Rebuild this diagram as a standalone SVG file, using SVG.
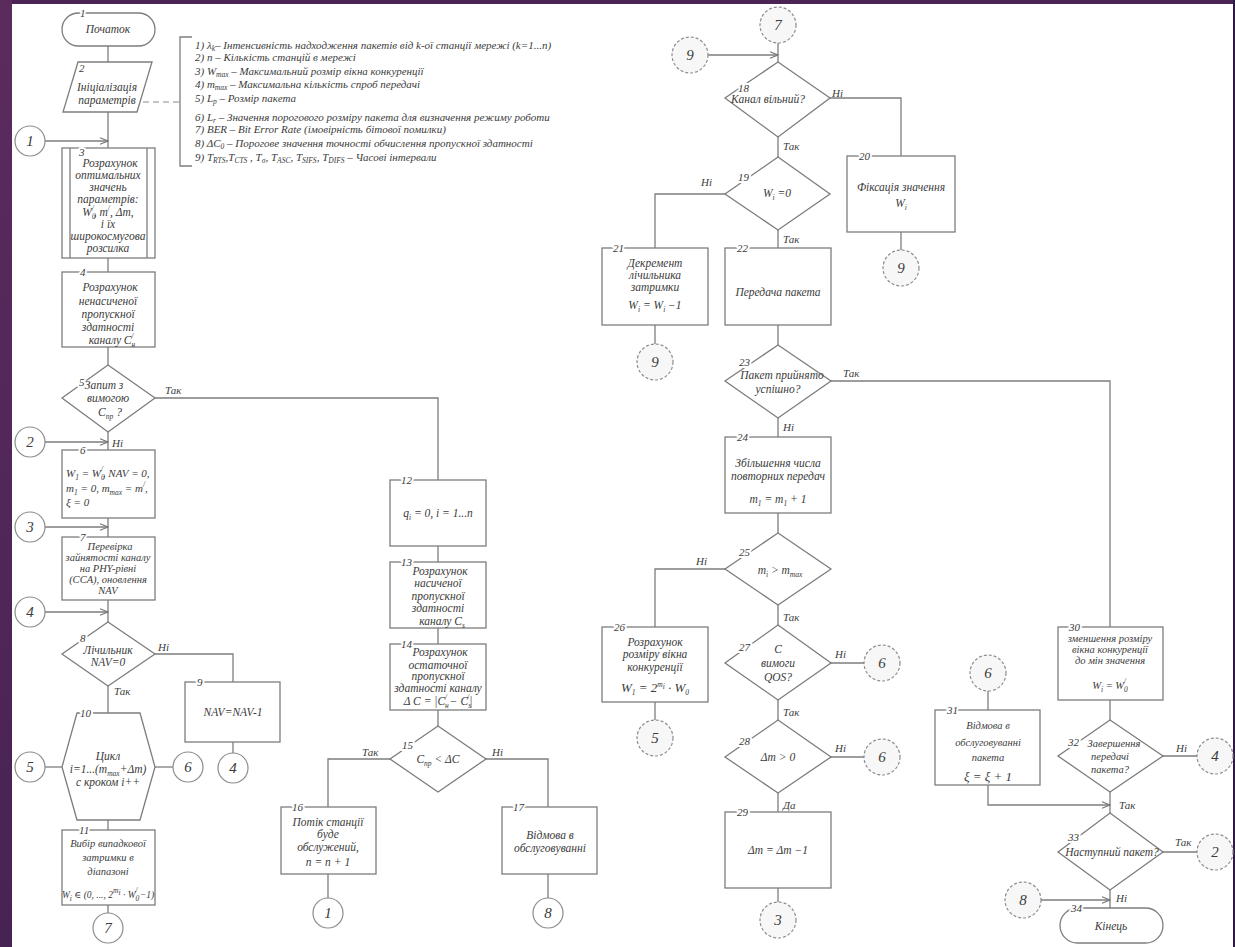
<svg xmlns="http://www.w3.org/2000/svg" width="1235" height="947" viewBox="0 0 1235 947" font-family="'Liberation Serif', serif">
<defs>
  <linearGradient id="band" x1="0" y1="0" x2="0" y2="1">
    <stop offset="0" stop-color="#5c2b5e"/>
    <stop offset="1" stop-color="#472353"/>
  </linearGradient>
  <marker id="arr" markerWidth="10" markerHeight="8" refX="9" refY="4" orient="auto" markerUnits="userSpaceOnUse">
    <path d="M1,0.8 L9,4 L1,7.2" fill="none" stroke="#777" stroke-width="1.1"/>
  </marker>
  <style>
    .ln{fill:none;stroke:#7d7d7d;stroke-width:1.3}
    .dl{fill:none;stroke:#8a8a8a;stroke-width:1.1;stroke-dasharray:6 4}
    .bx{fill:#fff;stroke:#7d7d7d;stroke-width:1.3}
    .cs{fill:#fff;stroke:#8c8c8c;stroke-width:1.2}
    .cd{fill:#f7f7f7;stroke:#8c8c8c;stroke-width:1.2;stroke-dasharray:3 2}
    text{font-family:"Liberation Serif","DejaVu Serif",serif;font-style:italic;fill:#3b3b3b}
    .t{font-size:11.5px;text-anchor:middle}
    .s{font-size:10.5px;text-anchor:middle}
    .f{font-size:11px}
    .lg{font-size:11px}
    .n{font-size:11px;stroke:#fff;stroke-width:4px;paint-order:stroke;stroke-linejoin:round}
    .c{font-size:15px;text-anchor:middle}
    .yn{font-size:11px}
    .sb{font-size:7.5px}
  </style>
</defs>

<!-- page frame -->
<rect width="1235" height="947" fill="#4b2454"/>
<rect x="0" y="0" width="12" height="947" fill="url(#band)"/>
<rect x="12" y="4" width="1221" height="943" fill="#fff"/>
<rect x="1233" y="0" width="2" height="947" fill="#2d1b44"/>

<!-- connectors -->
<g id="connectors">
  <path class="ln" d="M108,46 V62"/>
  <path class="ln" d="M108,112 V148"/>
  <path class="ln" d="M45,141 H108" marker-end="url(#arr)"/>
  <path class="dl" d="M143,102 H180"/>
  <path class="ln" d="M192,37 H180 V166 H192"/>
  <path class="ln" d="M108,258 V272"/>
  <path class="ln" d="M108,347 V365"/>
  <path class="ln" d="M155,398 H438 V480"/>
  <path class="ln" d="M108,432 V450"/>
  <path class="ln" d="M45,442 H108" marker-end="url(#arr)"/>
  <path class="ln" d="M108,518 V537"/>
  <path class="ln" d="M45,527 H108" marker-end="url(#arr)"/>
  <path class="ln" d="M108,600 V622"/>
  <path class="ln" d="M45,612 H108" marker-end="url(#arr)"/>
  <path class="ln" d="M155,654 H233 V682"/>
  <path class="ln" d="M233,742 V753"/>
  <path class="ln" d="M108,686 V713"/>
  <path class="ln" d="M45,767 H62"/>
  <path class="ln" d="M155,767 H173"/>
  <path class="ln" d="M108,820 V830"/>
  <path class="ln" d="M108,905 V913"/>

  <path class="ln" d="M438,546 V562"/>
  <path class="ln" d="M438,628 V644"/>
  <path class="ln" d="M438,710 V726"/>
  <path class="ln" d="M390,759 H328 V807"/>
  <path class="ln" d="M486,759 H548 V807"/>
  <path class="ln" d="M328,874 V898"/>
  <path class="ln" d="M548,874 V898"/>

  <path class="ln" d="M778,43 V62"/>
  <path class="ln" d="M708,55 H778" marker-end="url(#arr)"/>
  <path class="ln" d="M830,98 H901 V156"/>
  <path class="ln" d="M778,137 V157"/>
  <path class="ln" d="M725,194 H655 V248"/>
  <path class="ln" d="M778,230 V248"/>
  <path class="ln" d="M901,232 V250"/>
  <path class="ln" d="M655,325 V344"/>
  <path class="ln" d="M778,325 V345"/>
  <path class="ln" d="M831,381 H1110 V627"/>
  <path class="ln" d="M778,418 V437"/>
  <path class="ln" d="M778,513 V533"/>
  <path class="ln" d="M725,569 H655 V627"/>
  <path class="ln" d="M778,605 V625"/>
  <path class="ln" d="M655,702 V720"/>
  <path class="ln" d="M831,663 H864"/>
  <path class="ln" d="M778,700 V720"/>
  <path class="ln" d="M831,757 H864"/>
  <path class="ln" d="M778,793 V812"/>
  <path class="ln" d="M778,888 V902"/>

  <path class="ln" d="M1110,700 V720"/>
  <path class="ln" d="M988,691 V710"/>
  <path class="ln" d="M988,785 V805 H1110" marker-end="url(#arr)"/>
  <path class="ln" d="M1110,792 V813"/>
  <path class="ln" d="M1163,756 H1197"/>
  <path class="ln" d="M1163,852 H1197"/>
  <path class="ln" d="M1110,890 V908"/>
  <path class="ln" d="M1041,900 H1110" marker-end="url(#arr)"/>

  <!-- branch labels -->
  <text class="yn" x="165" y="394">Так</text>
  <text class="yn" x="112" y="447">Ні</text>
  <text class="yn" x="158" y="651">Ні</text>
  <text class="yn" x="114" y="695">Так</text>
  <text class="yn" x="362" y="756">Так</text>
  <text class="yn" x="492" y="756">Ні</text>
  <text class="yn" x="832" y="97">Ні</text>
  <text class="yn" x="783" y="150">Так</text>
  <text class="yn" x="701" y="186">Ні</text>
  <text class="yn" x="783" y="243">Так</text>
  <text class="yn" x="843" y="377">Так</text>
  <text class="yn" x="783" y="431">Ні</text>
  <text class="yn" x="696" y="565">Ні</text>
  <text class="yn" x="783" y="621">Так</text>
  <text class="yn" x="835" y="658">Ні</text>
  <text class="yn" x="783" y="716">Так</text>
  <text class="yn" x="835" y="752">Ні</text>
  <text class="yn" x="783" y="809">Да</text>
  <text class="yn" x="1176" y="752">Ні</text>
  <text class="yn" x="1119" y="809">Так</text>
  <text class="yn" x="1175" y="846">Так</text>
  <text class="yn" x="1116" y="902">Ні</text>
</g>

<!-- legend of input parameters -->
<g id="legend">
  <text class="lg" x="195" y="49">1) λ<tspan class="sb" dy="2">k</tspan><tspan dy="-2">– Інтенсивність надходження пакетів від k-ої станції мережі (k=1...n)</tspan></text>
  <text class="lg" x="195" y="61">2) n – Кількість станцій в мережі</text>
  <text class="lg" x="195" y="75">3) W<tspan class="sb" dy="2">max</tspan><tspan dy="-2"> – Максимальний розмір вікна конкуренції</tspan></text>
  <text class="lg" x="195" y="88">4) m<tspan class="sb" dy="2">max</tspan><tspan dy="-2"> – Максимальна кількість спроб передачі</tspan></text>
  <text class="lg" x="195" y="102">5) L<tspan class="sb" dy="2">p</tspan><tspan dy="-2"> – Розмір пакета</tspan></text>
  <text class="lg" x="195" y="121">6) L<tspan class="sb" dy="2">r</tspan><tspan dy="-2"> – Значення порогового розміру пакета для визначення режиму роботи</tspan></text>
  <text class="lg" x="195" y="133">7) BER – Bit Error Rate (імовірність бітової помилки)</text>
  <text class="lg" x="195" y="147">8) ΔC<tspan class="sb" dy="2">0</tspan><tspan dy="-2"> – Порогове значення точності обчислення пропускної здатності</tspan></text>
  <text class="lg" x="195" y="161">9) T<tspan class="sb" dy="2">RTS</tspan><tspan dy="-2">,T</tspan><tspan class="sb" dy="2">CTS</tspan><tspan dy="-2"> , T</tspan><tspan class="sb" dy="2">σ</tspan><tspan dy="-2">, T</tspan><tspan class="sb" dy="2">ASC</tspan><tspan dy="-2">, T</tspan><tspan class="sb" dy="2">SIFS</tspan><tspan dy="-2">, T</tspan><tspan class="sb" dy="2">DIFS</tspan><tspan dy="-2"> – Часові інтервали</tspan></text>
</g>

<!-- left column -->
<g id="n1">
  <rect class="bx" x="62" y="13" width="93" height="33" rx="16.5"/>
  <text class="n" x="80" y="17">1</text>
  <text class="t" x="108" y="33">Початок</text>
</g>
<g id="n2">
  <polygon class="bx" points="78,62 152,62 137,112 63,112"/>
  <text class="n" x="79" y="72">2</text>
  <text class="t" x="107" y="91">Ініціалізація</text>
  <text class="t" x="107" y="104">параметрів</text>
</g>
<g id="k1a"><circle class="cs" cx="30" cy="141" r="15"/><text class="c" x="30" y="146">1</text></g>
<g id="n3">
  <rect class="bx" x="62" y="148" width="93" height="110"/>
  <path class="ln" d="M70,148 V258 M147,148 V258"/>
  <text class="n" x="79" y="156">3</text>
  <text class="t" x="110" y="167">Розрахунок</text>
  <text class="t" x="108" y="179">оптимальних</text>
  <text class="t" x="108" y="191">значень</text>
  <text class="t" x="108" y="203">параметрів:</text>
  <text class="t" x="108" y="216">W<tspan class="sb" dy="3">0</tspan><tspan class="sb" dy="-8" dx="-4">/</tspan><tspan dy="5">, m</tspan><tspan class="sb" dy="-5">/</tspan><tspan dy="5">, Δm,</tspan></text>
  <text class="t" x="108" y="228">і їх</text>
  <text class="t" x="108" y="240">широкосмугова</text>
  <text class="t" x="108" y="252">розсилка</text>
</g>
<g id="n4">
  <rect class="bx" x="62" y="272" width="93" height="75"/>
  <text class="n" x="80" y="276">4</text>
  <text class="t" x="110" y="291">Розрахунок</text>
  <text class="t" x="108" y="305">ненасиченої</text>
  <text class="t" x="108" y="318">пропускної</text>
  <text class="t" x="108" y="331">здатності</text>
  <text class="t" x="112" y="344">каналу  C<tspan class="sb" dy="3">н</tspan><tspan class="sb" dy="-8" dx="-4">/</tspan></text>
</g>
<g id="n5">
  <polygon class="bx" points="108,365 155,398 108,432 62,398"/>
  <text class="n" x="79" y="386">5</text>
  <text class="t" x="104" y="389">Запит з</text>
  <text class="t" x="108" y="402">вимогою</text>
  <text class="t" x="110" y="416">C<tspan class="sb" dy="3">пр</tspan><tspan dy="-3"> ?</tspan></text>
</g>
<g id="k2a"><circle class="cs" cx="30" cy="442" r="15"/><text class="c" x="30" y="447">2</text></g>
<g id="n6">
  <rect class="bx" x="62" y="450" width="93" height="68"/>
  <text class="n" x="80" y="454">6</text>
  <text class="f" x="66" y="477">W<tspan class="sb" dy="3">1</tspan><tspan dy="-3"> = W</tspan><tspan class="sb" dy="3">0</tspan><tspan class="sb" dy="-8" dx="-4">/</tspan><tspan dy="5">, NAV = 0,</tspan></text>
  <text class="f" x="66" y="492">m<tspan class="sb" dy="3">1</tspan><tspan dy="-3"> = 0, m</tspan><tspan class="sb" dy="3">max</tspan><tspan dy="-3"> = m</tspan><tspan class="sb" dy="-5">/</tspan><tspan dy="5">,</tspan></text>
  <text class="f" x="66" y="506">ξ = 0</text>
</g>
<g id="k3a"><circle class="cs" cx="30" cy="527" r="15"/><text class="c" x="30" y="532">3</text></g>
<g id="n7">
  <rect class="bx" x="62" y="537" width="93" height="63"/>
  <text class="n" x="80" y="541">7</text>
  <text class="s" x="110" y="550">Перевірка</text>
  <text class="s" x="108" y="561">зайнятості каналу</text>
  <text class="s" x="108" y="572">на PHY-рівні</text>
  <text class="s" x="108" y="583">(CCA), оновлення</text>
  <text class="s" x="108" y="594">NAV</text>
</g>
<g id="k4a"><circle class="cs" cx="30" cy="612" r="15"/><text class="c" x="30" y="617">4</text></g>
<g id="n8">
  <polygon class="bx" points="108,622 155,654 108,686 62,654"/>
  <text class="n" x="80" y="642">8</text>
  <text class="t" x="108" y="654">Лічильник</text>
  <text class="t" x="108" y="666">NAV=0</text>
</g>
<g id="n9">
  <rect class="bx" x="185" y="682" width="95" height="60"/>
  <text class="n" x="197" y="686">9</text>
  <text class="t" x="233" y="716">NAV=NAV-1</text>
</g>
<g id="k4b"><circle class="cs" cx="233" cy="768" r="15"/><text class="c" x="233" y="773">4</text></g>
<g id="n10">
  <polygon class="bx" points="77,713 140,713 155,767 140,820 77,820 62,767"/>
  <text class="n" x="80" y="717">10</text>
  <text class="t" x="108" y="760">Цикл</text>
  <text class="t" x="108" y="773">i=1...(m<tspan class="sb" dy="3">max</tspan><tspan dy="-3">+Δm)</tspan></text>
  <text class="t" x="108" y="786">с кроком  i++</text>
</g>
<g id="k5a"><circle class="cs" cx="30" cy="767" r="15"/><text class="c" x="30" y="772">5</text></g>
<g id="k6a"><circle class="cs" cx="188" cy="767" r="15"/><text class="c" x="188" y="772">6</text></g>
<g id="n11">
  <rect class="bx" x="62" y="830" width="93" height="75"/>
  <text class="n" x="79" y="834">11</text>
  <text class="s" x="108" y="847">Вибір випадкової</text>
  <text class="s" x="108" y="861">затримки в</text>
  <text class="s" x="108" y="875">діапазоні</text>
  <text class="s" x="108" y="898" style="font-size:9.5px">W<tspan class="sb" dy="3">i</tspan><tspan dy="-3"> ∈ (0, ..., 2</tspan><tspan class="sb" dy="-5">m</tspan><tspan class="sb" dy="2">i</tspan><tspan dy="3"> · W</tspan><tspan class="sb" dy="3">0</tspan><tspan class="sb" dy="-8" dx="-4">/</tspan><tspan dy="5"> −1)</tspan></text>
</g>
<g id="k7a"><circle class="cs" cx="108" cy="928" r="15"/><text class="c" x="108" y="933">7</text></g>

<!-- middle column -->
<g id="n12">
  <rect class="bx" x="390" y="480" width="96" height="66"/>
  <text class="n" x="401" y="484">12</text>
  <text class="t" x="438" y="517">q<tspan class="sb" dy="3">i</tspan><tspan dy="-3"> = 0,  i = 1...n</tspan></text>
</g>
<g id="n13">
  <rect class="bx" x="390" y="562" width="96" height="66"/>
  <text class="n" x="401" y="566">13</text>
  <text class="t" x="440" y="575">Розрахунок</text>
  <text class="t" x="438" y="587">насиченої</text>
  <text class="t" x="438" y="600">пропускної</text>
  <text class="t" x="438" y="612">здатності</text>
  <text class="t" x="442" y="625">каналу  C<tspan class="sb" dy="3">s</tspan></text>
</g>
<g id="n14">
  <rect class="bx" x="390" y="644" width="96" height="66"/>
  <text class="n" x="401" y="648">14</text>
  <text class="t" x="440" y="656">Розрахунок</text>
  <text class="t" x="438" y="669">остаточної</text>
  <text class="t" x="438" y="680">пропускної</text>
  <text class="t" x="438" y="692">здатності каналу</text>
  <text class="t" x="438" y="705">Δ C  =  |C<tspan class="sb" dy="3">н</tspan><tspan class="sb" dy="-8" dx="-4">/</tspan><tspan dy="5"> − C</tspan><tspan class="sb" dy="3">s</tspan><tspan class="sb" dy="-8" dx="-4">/</tspan><tspan dy="5">|</tspan></text>
</g>
<g id="n15">
  <polygon class="bx" points="438,726 486,759 438,792 390,759"/>
  <text class="n" x="402" y="749">15</text>
  <text class="t" x="438" y="763">C<tspan class="sb" dy="3">пр</tspan><tspan dy="-3"> &lt; ΔC</tspan></text>
</g>
<g id="n16">
  <rect class="bx" x="281" y="807" width="95" height="67"/>
  <text class="n" x="292" y="811">16</text>
  <text class="t" x="328" y="826">Потік станції</text>
  <text class="t" x="328" y="838">буде</text>
  <text class="t" x="328" y="851">обслужений,</text>
  <text class="t" x="328" y="866">n = n + 1</text>
</g>
<g id="k1b"><circle class="cs" cx="328" cy="913" r="15"/><text class="c" x="328" y="918">1</text></g>
<g id="n17">
  <rect class="bx" x="502" y="807" width="95" height="67"/>
  <text class="n" x="513" y="811">17</text>
  <text class="t" x="550" y="839">Відмова в</text>
  <text class="t" x="550" y="852">обслуговуванні</text>
</g>
<g id="k8a"><circle class="cs" cx="548" cy="913" r="15"/><text class="c" x="548" y="918">8</text></g>

<!-- third column -->
<g id="k7b"><circle class="cd" cx="778" cy="25" r="18"/><text class="c" x="778" y="30">7</text></g>
<g id="k9a"><circle class="cd" cx="690" cy="55" r="18"/><text class="c" x="690" y="60">9</text></g>
<g id="n18">
  <polygon class="bx" points="778,62 830,98 778,137 725,98"/>
  <text class="n" x="738" y="92">18</text>
  <text class="t" x="768" y="103">Канал вільний?</text>
</g>
<g id="n19">
  <polygon class="bx" points="778,157 830,194 778,230 725,194"/>
  <text class="n" x="738" y="181">19</text>
  <text class="t" x="777" y="197">W<tspan class="sb" dy="3">i</tspan><tspan dy="-3"> =0</tspan></text>
</g>
<g id="n20">
  <rect class="bx" x="847" y="156" width="108" height="76"/>
  <text class="n" x="859" y="160">20</text>
  <text class="t" x="901" y="191">Фіксація значення</text>
  <text class="t" x="901" y="207">W<tspan class="sb" dy="3">i</tspan></text>
</g>
<g id="k9b"><circle class="cd" cx="901" cy="268" r="18"/><text class="c" x="901" y="273">9</text></g>
<g id="n21">
  <rect class="bx" x="602" y="248" width="106" height="77"/>
  <text class="n" x="613" y="252">21</text>
  <text class="t" x="655" y="267">Декремент</text>
  <text class="t" x="655" y="279">лічильника</text>
  <text class="t" x="655" y="291">затримки</text>
  <text class="t" x="655" y="309">W<tspan class="sb" dy="3">i</tspan><tspan dy="-3"> = W</tspan><tspan class="sb" dy="3">i</tspan><tspan dy="-3"> −1</tspan></text>
</g>
<g id="k9c"><circle class="cd" cx="655" cy="362" r="18"/><text class="c" x="655" y="367">9</text></g>
<g id="n22">
  <rect class="bx" x="725" y="248" width="106" height="77"/>
  <text class="n" x="737" y="252">22</text>
  <text class="t" x="778" y="296">Передача пакета</text>
</g>
<g id="n23">
  <polygon class="bx" points="778,345 831,381 778,418 725,381"/>
  <text class="n" x="739" y="366">23</text>
  <text class="t" x="782" y="379">Пакет прийнято</text>
  <text class="t" x="778" y="393">успішно?</text>
</g>
<g id="n24">
  <rect class="bx" x="725" y="437" width="106" height="76"/>
  <text class="n" x="737" y="441">24</text>
  <text class="t" x="778" y="467">Збільшення числа</text>
  <text class="t" x="778" y="480">повторних передач</text>
  <text class="t" x="778" y="503">m<tspan class="sb" dy="3">1</tspan><tspan dy="-3"> = m</tspan><tspan class="sb" dy="3">1</tspan><tspan dy="-3"> + 1</tspan></text>
</g>
<g id="n25">
  <polygon class="bx" points="778,533 831,569 778,605 725,569"/>
  <text class="n" x="739" y="556">25</text>
  <text class="t" x="780" y="574">m<tspan class="sb" dy="3">i</tspan><tspan dy="-3"> &gt; m</tspan><tspan class="sb" dy="3">max</tspan></text>
</g>
<g id="n26">
  <rect class="bx" x="602" y="627" width="106" height="75"/>
  <text class="n" x="614" y="631">26</text>
  <text class="t" x="655" y="646">Розрахунок</text>
  <text class="t" x="655" y="658">розміру вікна</text>
  <text class="t" x="655" y="671">конкуренції</text>
  <text class="t" x="655" y="692" style="font-size:13px">W<tspan class="sb" dy="3">1</tspan><tspan dy="-3"> = 2</tspan><tspan class="sb" dy="-5">m</tspan><tspan class="sb" dy="2">i</tspan><tspan dy="3"> · W</tspan><tspan class="sb" dy="3">0</tspan></text>
</g>
<g id="k5b"><circle class="cd" cx="655" cy="738" r="18"/><text class="c" x="655" y="743">5</text></g>
<g id="n27">
  <polygon class="bx" points="778,625 831,663 778,700 725,663"/>
  <text class="n" x="739" y="651">27</text>
  <text class="t" x="778" y="653">C</text>
  <text class="t" x="778" y="667">вимоги</text>
  <text class="t" x="778" y="681">QOS?</text>
</g>
<g id="k6b"><circle class="cd" cx="882" cy="663" r="18"/><text class="c" x="882" y="668">6</text></g>
<g id="n28">
  <polygon class="bx" points="778,720 831,757 778,793 725,757"/>
  <text class="n" x="739" y="745">28</text>
  <text class="t" x="778" y="761">Δm &gt; 0</text>
</g>
<g id="k6c"><circle class="cd" cx="882" cy="757" r="18"/><text class="c" x="882" y="762">6</text></g>
<g id="n29">
  <rect class="bx" x="725" y="812" width="106" height="76"/>
  <text class="n" x="737" y="816">29</text>
  <text class="t" x="778" y="854">Δm = Δm −1</text>
</g>
<g id="k3b"><circle class="cd" cx="778" cy="920" r="18"/><text class="c" x="778" y="925">3</text></g>

<!-- right column -->
<g id="n30">
  <rect class="bx" x="1058" y="627" width="105" height="73"/>
  <text class="n" x="1069" y="631">30</text>
  <text class="s" x="1110" y="642">зменшення розміру</text>
  <text class="s" x="1110" y="653">вікна конкуренції</text>
  <text class="s" x="1110" y="664">до мін значення</text>
  <text class="s" x="1110" y="689">W<tspan class="sb" dy="3">i</tspan><tspan dy="-3"> = W</tspan><tspan class="sb" dy="3">0</tspan><tspan class="sb" dy="-8" dx="-4">/</tspan></text>
</g>
<g id="k6d"><circle class="cd" cx="988" cy="673" r="18"/><text class="c" x="988" y="678">6</text></g>
<g id="n31">
  <rect class="bx" x="935" y="710" width="105" height="75"/>
  <text class="n" x="947" y="714">31</text>
  <text class="s" x="988" y="729">Відмова в</text>
  <text class="s" x="988" y="746">обслуговуванні</text>
  <text class="s" x="988" y="761">пакета</text>
  <text class="t" x="988" y="781" style="font-size:13px">ξ = ξ + 1</text>
</g>
<g id="n32">
  <polygon class="bx" points="1110,720 1163,756 1110,792 1058,756"/>
  <text class="n" x="1068" y="746">32</text>
  <text class="s" x="1114" y="747">Завершення</text>
  <text class="s" x="1110" y="760">передачі</text>
  <text class="s" x="1110" y="773">пакета?</text>
</g>
<g id="k4c"><circle class="cd" cx="1215" cy="756" r="18"/><text class="c" x="1215" y="761">4</text></g>
<g id="n33">
  <polygon class="bx" points="1110,813 1163,852 1110,890 1058,852"/>
  <text class="n" x="1068" y="841">33</text>
  <text class="t" x="1112" y="856">Наступний пакет?</text>
</g>
<g id="k2b"><circle class="cd" cx="1215" cy="852" r="18"/><text class="c" x="1215" y="857">2</text></g>
<g id="k8b"><circle class="cd" cx="1023" cy="900" r="18"/><text class="c" x="1023" y="905">8</text></g>
<g id="n34">
  <rect class="bx" x="1060" y="908" width="103" height="35" rx="17.5"/>
  <text class="n" x="1071" y="912">34</text>
  <text class="t" x="1111" y="930">Кінець</text>
</g>
</svg>
